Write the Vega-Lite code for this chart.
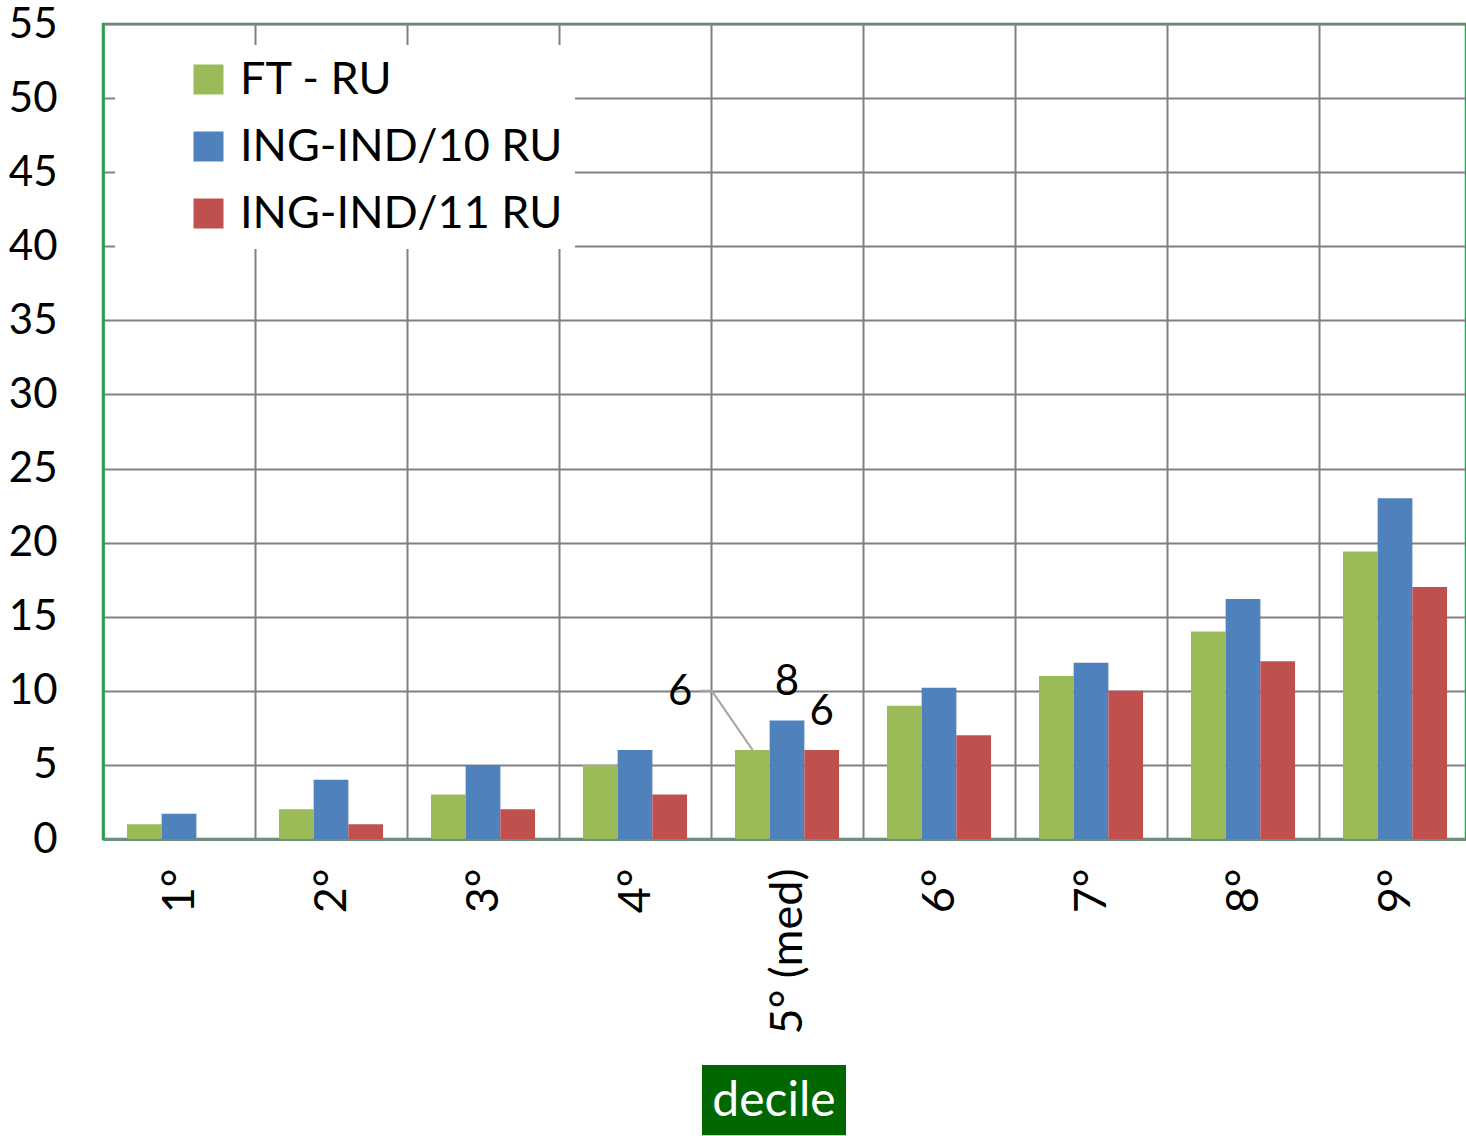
{
  "$schema": "https://vega.github.io/schema/vega-lite/v6.json",
  "width": 1363,
  "height": 815,
  "autosize": {"type": "none"},
  "padding": {"left": 103, "top": 24, "right": 0, "bottom": 297},
  "background": "white",
  "config": {
    "font": "Lato",
    "view": {"stroke": "#22a552", "strokeWidth": 2.5}
  },
  "datasets": {
    "bars": [
      {"decile": "1°", "series": "FT - RU", "value": 1},
      {"decile": "1°", "series": "ING-IND/10 RU", "value": 1.7},
      {"decile": "1°", "series": "ING-IND/11 RU", "value": 0},
      {"decile": "2°", "series": "FT - RU", "value": 2},
      {"decile": "2°", "series": "ING-IND/10 RU", "value": 4},
      {"decile": "2°", "series": "ING-IND/11 RU", "value": 1},
      {"decile": "3°", "series": "FT - RU", "value": 3},
      {"decile": "3°", "series": "ING-IND/10 RU", "value": 5},
      {"decile": "3°", "series": "ING-IND/11 RU", "value": 2},
      {"decile": "4°", "series": "FT - RU", "value": 5},
      {"decile": "4°", "series": "ING-IND/10 RU", "value": 6},
      {"decile": "4°", "series": "ING-IND/11 RU", "value": 3},
      {"decile": "5° (med)", "series": "FT - RU", "value": 6},
      {"decile": "5° (med)", "series": "ING-IND/10 RU", "value": 8},
      {"decile": "5° (med)", "series": "ING-IND/11 RU", "value": 6},
      {"decile": "6°", "series": "FT - RU", "value": 9},
      {"decile": "6°", "series": "ING-IND/10 RU", "value": 10.2},
      {"decile": "6°", "series": "ING-IND/11 RU", "value": 7},
      {"decile": "7°", "series": "FT - RU", "value": 11},
      {"decile": "7°", "series": "ING-IND/10 RU", "value": 11.9},
      {"decile": "7°", "series": "ING-IND/11 RU", "value": 10},
      {"decile": "8°", "series": "FT - RU", "value": 14},
      {"decile": "8°", "series": "ING-IND/10 RU", "value": 16.2},
      {"decile": "8°", "series": "ING-IND/11 RU", "value": 12},
      {"decile": "9°", "series": "FT - RU", "value": 19.4},
      {"decile": "9°", "series": "ING-IND/10 RU", "value": 23},
      {"decile": "9°", "series": "ING-IND/11 RU", "value": 17}
    ],
    "leader": [
      {"px": 3.94, "py": 10},
      {"px": 4.02, "py": 10},
      {"px": 4.29, "py": 6}
    ]
  },
  "layer": [
    {
      "layer": [
        {
          "data": {"name": "bars"},
          "mark": {"type": "bar"},
          "encoding": {
            "x": {
              "field": "decile", "type": "nominal", "sort": null,
              "scale": {"paddingInner": 0, "paddingOuter": 0, "rangeMax": 1368},
              "axis": {
                "title": null, "labelAngle": -90, "labelFontSize": 45, "labelFont": "Lato",
                "labelColor": "black", "labelPadding": 29, "ticks": false,
                "tickBand": "extent", "grid": true, "gridColor": "#808080", "gridWidth": 2,
                "domainColor": "#6f8c7c", "domainWidth": 3, "zindex": 0
              }
            },
            "xOffset": {
              "field": "series", "type": "nominal",
              "sort": ["FT - RU", "ING-IND/10 RU", "ING-IND/11 RU"],
              "scale": {"paddingInner": 0, "paddingOuter": 0.69}
            },
            "y": {
              "field": "value", "type": "quantitative",
              "scale": {"domain": [0, 55], "nice": false},
              "axis": {
                "title": null, "values": [0, 5, 10, 15, 20, 25, 30, 35, 40, 45, 50, 55],
                "labelFontSize": 42, "labelFont": "Lato", "labelColor": "black",
                "labelPadding": 46, "ticks": false, "grid": true,
                "gridColor": "#808080", "gridWidth": 2,
                "domainColor": "#22a552", "domainWidth": 2.5
              }
            },
            "color": {
              "field": "series", "type": "nominal",
              "scale": {
                "domain": ["FT - RU", "ING-IND/10 RU", "ING-IND/11 RU"],
                "range": ["#9BBB59", "#4F81BD", "#C0504D"]
              },
              "legend": {
                "orient": "none", "legendX": 12, "legendY": 21, "title": null,
                "fillColor": "white", "padding": 12, "symbolType": "square",
                "symbolSize": 900, "symbolStrokeWidth": 0, "symbolOffset": 59,
                "labelFontSize": 45, "labelFont": "Lato", "labelColor": "black",
                "labelLimit": 700, "rowPadding": 21, "labelOffset": 9
              }
            }
          }
        },
        {
          "data": {"name": "bars"},
          "transform": [
            {"filter": "datum.decile === '5° (med)' && datum.series !== 'FT - RU'"}
          ],
          "mark": {"type": "text", "fontSize": 42, "font": "Lato", "color": "black", "dy": -38},
          "encoding": {
            "x": {"field": "decile", "type": "nominal", "sort": null},
            "xOffset": {"field": "series", "type": "nominal", "sort": ["FT - RU", "ING-IND/10 RU", "ING-IND/11 RU"]},
            "y": {"field": "value", "type": "quantitative"},
            "text": {"field": "value", "type": "quantitative"}
          }
        },
        {
          "data": {"name": "bars"},
          "transform": [
            {"filter": "datum.decile === '5° (med)' && datum.series === 'FT - RU'"}
          ],
          "mark": {"type": "text", "fontSize": 42, "font": "Lato", "color": "black", "dx": -72, "dy": -58},
          "encoding": {
            "x": {"field": "decile", "type": "nominal", "sort": null},
            "xOffset": {"field": "series", "type": "nominal", "sort": ["FT - RU", "ING-IND/10 RU", "ING-IND/11 RU"]},
            "y": {"field": "value", "type": "quantitative"},
            "text": {"field": "value", "type": "quantitative"}
          }
        },
        {
          "data": {"values": [{"t": "decile"}]},
          "mark": {"type": "bar", "width": 144, "xOffset": -13, "color": "#006600"},
          "encoding": {
            "x": {"datum": "5° (med)", "type": "nominal"},
            "y": {"datum": -15.25, "type": "quantitative"},
            "y2": {"datum": -20}
          }
        },
        {
          "data": {"values": [{"t": "decile"}]},
          "mark": {"type": "text", "fontSize": 48, "font": "Lato", "color": "white", "xOffset": -13, "baseline": "middle"},
          "encoding": {
            "x": {"datum": "5° (med)", "type": "nominal"},
            "y": {"datum": -17.75, "type": "quantitative"},
            "text": {"field": "t", "type": "nominal"}
          }
        }
      ]
    },
    {
      "data": {"name": "leader"},
      "mark": {"type": "line", "color": "#a6a6a6", "strokeWidth": 2},
      "encoding": {
        "x": {"field": "px", "type": "quantitative", "scale": {"domain": [0, 9], "nice": false, "zero": false}, "axis": null},
        "y": {"field": "py", "type": "quantitative"}
      }
    }
  ],
  "resolve": {"scale": {"x": "independent"}}
}
